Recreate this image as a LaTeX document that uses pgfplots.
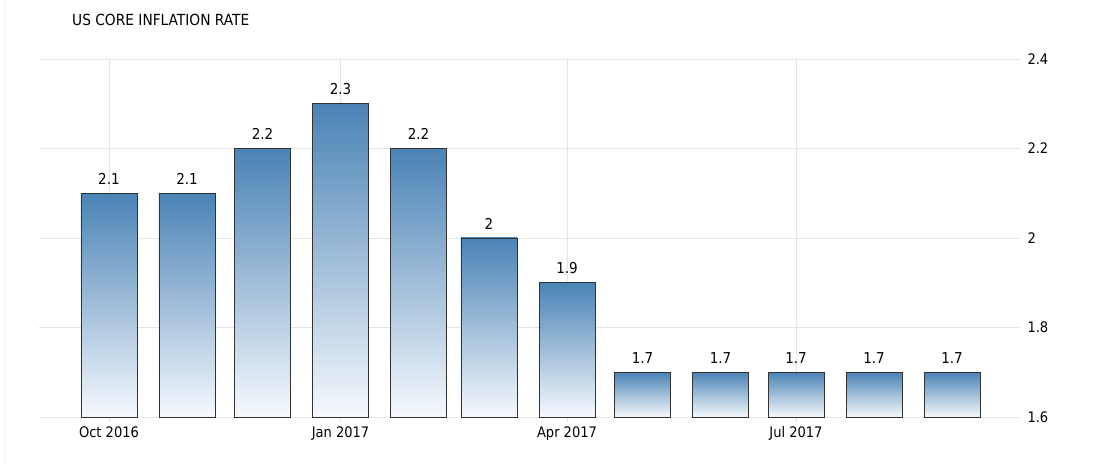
\documentclass[border=0pt]{standalone}
\usepackage{pgfplots}
\pgfplotsset{compat=1.18}
\usepackage{fontspec}
\setmainfont{DejaVu Sans Condensed}
\definecolor{bartop}{RGB}{74,131,181}
\definecolor{barbot}{RGB}{246,249,253}
\definecolor{gridc}{RGB}{228,228,228}
\definecolor{edgec}{RGB}{50,50,50}
\begin{document}
\begin{tikzpicture}
\path[use as bounding box] (0,0) rectangle (1095bp,464bp);
\draw[color={rgb,255:red,243;green,243;blue,243}, line width=0.8bp] (5bp,0) -- (5bp,464bp);
\node[anchor=base west, inner sep=0pt, font=\fontsize{15.3bp}{18bp}\selectfont] at (72bp,438bp) {US CORE INFLATION RATE};
\begin{axis}[
  at={(39bp,47bp)}, anchor=south west, scale only axis,
  width=981bp, height=358bp,
  xmin=-27.8, xmax=362, ymin=1.6, ymax=2.4,
  ytick={1.6,1.8,2,2.2,2.4}, yticklabels={1.6,1.8,2,2.2,2.4},
  xtick={0,92,182,273}, xticklabels={Oct 2016,Jan 2017,Apr 2017,Jul 2017},
  axis line style={draw=none},
  ymajorgrids, xmajorgrids,
  grid style={draw=gridc, line width=0.8bp},
  tick align=outside,
  xtick pos=bottom, ytick pos=right,
  yticklabel pos=right,
  xtick style={draw=gridc, line width=0.8bp},
  major tick length=5bp,
  ytick style={draw=none},
  ticklabel style={font=\fontsize{14.5bp}{16bp}\selectfont, text=black},
  xticklabel style={yshift=-1bp},
  yticklabel style={anchor=west, xshift=-1bp},
  /pgf/number format/assume math mode=true,
  clip=false,
  mybar/.style={ybar, bar width=56bp, draw=edgec, line width=0.9bp,
    top color=bartop, bottom color=barbot,
    nodes near coords,
    nodes near coords style={font=\fontsize{15bp}{17bp}\selectfont, text=black, yshift=5bp}},
]
\addplot[mybar] coordinates {(0,2.1)};
\addplot[mybar] coordinates {(31,2.1)};
\addplot[mybar] coordinates {(61,2.2)};
\addplot[mybar] coordinates {(92,2.3)};
\addplot[mybar] coordinates {(123,2.2)};
\addplot[mybar] coordinates {(151,2.0)};
\addplot[mybar] coordinates {(182,1.9)};
\addplot[mybar] coordinates {(212,1.7)};
\addplot[mybar] coordinates {(243,1.7)};
\addplot[mybar] coordinates {(273,1.7)};
\addplot[mybar] coordinates {(304,1.7)};
\addplot[mybar] coordinates {(335,1.7)};
\end{axis}
\end{tikzpicture}
\end{document}
